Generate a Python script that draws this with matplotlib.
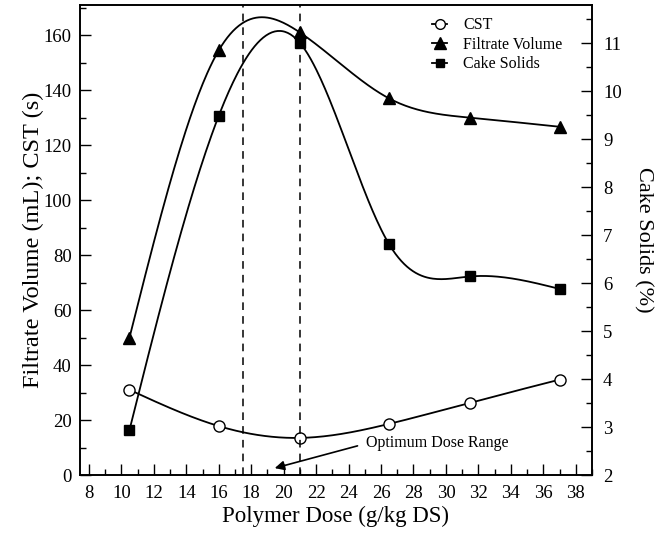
import numpy as np
import matplotlib
matplotlib.use("Agg")
import matplotlib.pyplot as plt
from matplotlib.ticker import MultipleLocator

plt.rcParams['font.family'] = ['Liberation Serif', 'DejaVu Serif']

dose = [10.5, 16, 21, 26.5, 31.5, 37]
cst = [31.0, 17.8, 13.5, 18.6, 26.3, 34.7]
filtrate = [50.0, 154.5, 161.0, 137.0, 130.0, 126.7]
cake_solids = [2.94, 9.49, 11.01, 6.81, 6.14, 5.88]
opt_range = [17.5, 21]


def natural_spline(x, y, n=300):
    x = np.asarray(x, float)
    y = np.asarray(y, float)
    m = len(x)
    h = np.diff(x)
    A = np.zeros((m, m))
    b = np.zeros(m)
    A[0, 0] = 1
    A[-1, -1] = 1
    for i in range(1, m - 1):
        A[i, i - 1] = h[i - 1]
        A[i, i] = 2 * (h[i - 1] + h[i])
        A[i, i + 1] = h[i]
        b[i] = 6 * ((y[i + 1] - y[i]) / h[i] - (y[i] - y[i - 1]) / h[i - 1])
    M = np.linalg.solve(A, b)
    xs = np.linspace(x[0], x[-1], n)
    ys = np.empty_like(xs)
    for k, t in enumerate(xs):
        i = min(np.searchsorted(x, t, side='right') - 1, m - 2)
        i = max(i, 0)
        a = x[i + 1] - t
        c = t - x[i]
        ys[k] = (M[i] * a ** 3 / (6 * h[i]) + M[i + 1] * c ** 3 / (6 * h[i])
                 + (y[i] / h[i] - M[i] * h[i] / 6) * a
                 + (y[i + 1] / h[i] - M[i + 1] * h[i] / 6) * c)
    return xs, ys


fig = plt.figure(figsize=(6.62, 5.39), dpi=100)
ax = fig.add_axes([80 / 662, 1 - 475 / 539, 512 / 662, 470 / 539])
ax2 = ax.twinx()

lw = 1.3
xs, ys = natural_spline(dose, cst)
ax.plot(xs, ys, color='black', lw=lw)
ax.plot(dose, cst, ls='None', marker='o', ms=8, mfc='white', mec='black')
xs, ys = natural_spline(dose, filtrate)
ax.plot(xs, ys, color='black', lw=lw)
ax.plot(dose, filtrate, ls='None', marker='^', ms=9, mfc='black', mec='black')
xs, ys = natural_spline(dose, cake_solids)
ax2.plot(xs, ys, color='black', lw=lw)
ax2.plot(dose, cake_solids, ls='None', marker='s', ms=7, mfc='black', mec='black')

for xv in opt_range:
    ax.axvline(xv, color='black', ls=(0, (5, 4)), lw=1.1)

ax.text(25.1, 11.8, 'Optimum Dose Range', fontsize=11.5, va='center', ha='left')
ax.annotate('', xy=(19.45, 2.5), xytext=(24.55, 10.6),
            arrowprops=dict(arrowstyle='-|>', color='black', lw=1.2,
                            shrinkA=0, shrinkB=0, mutation_scale=14))

ax.set_xlim(7.45, 39.0)
ax.set_ylim(0, 171)
ax2.set_ylim(2, 11.8)

ax.xaxis.set_major_locator(MultipleLocator(2))
ax.xaxis.set_minor_locator(MultipleLocator(1))
ax.yaxis.set_major_locator(MultipleLocator(20))
ax.yaxis.set_minor_locator(MultipleLocator(10))
ax2.yaxis.set_major_locator(MultipleLocator(1))
ax2.yaxis.set_minor_locator(MultipleLocator(0.5))

ax.tick_params(axis='both', which='both', direction='in', top=False,
               labelsize=13.5)
ax.tick_params(axis='y', which='major', pad=6)
ax.tick_params(axis='x', which='major', pad=7)
ax.tick_params(which='major', length=8, width=1)
ax.tick_params(which='minor', length=4, width=1)
ax2.tick_params(axis='y', which='both', direction='in', labelsize=13.5)
ax2.tick_params(which='major', length=8, width=1, pad=8)
ax2.tick_params(which='minor', length=4, width=1)

ax.set_xlabel('Polymer Dose (g/kg DS)', fontsize=16.5, labelpad=3)
ax.set_ylabel('Filtrate Volume (mL); CST (s)', fontsize=17.5, labelpad=0)
ax2.set_ylabel('Cake Solids (%)', fontsize=16, rotation=270, labelpad=22)

for s in ax.spines.values():
    s.set_linewidth(1.2)
for s in ax2.spines.values():
    s.set_linewidth(1.2)

ax.legend(handles=[
    plt.Line2D([], [], color='black', lw=lw, marker='o', mfc='white', mec='black', ms=7),
    plt.Line2D([], [], color='black', lw=lw, marker='^', mfc='black', ms=8),
    plt.Line2D([], [], color='black', lw=lw, marker='s', mfc='black', ms=6)],
    labels=['CST', 'Filtrate Volume', 'Cake Solids'],
    loc='upper left', bbox_to_anchor=(0.672, 0.991), frameon=False, fontsize=11.5,
    borderpad=0, handlelength=0.95, labelspacing=0.22, handletextpad=1.0)

fig.savefig('out.png', dpi=100)
